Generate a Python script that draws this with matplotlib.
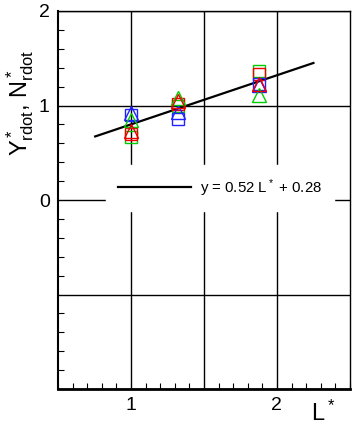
import numpy as np
import matplotlib
matplotlib.use('Agg')
import matplotlib.pyplot as plt
from matplotlib.ticker import MultipleLocator

plt.rcParams['font.family'] = ['Liberation Sans', 'DejaVu Sans']
plt.rcParams['mathtext.fontset'] = 'custom'
plt.rcParams['mathtext.rm'] = 'Liberation Sans'
plt.rcParams['mathtext.it'] = 'Liberation Sans'

# L* positions of the three groups
L = [1.0, 1.32, 1.88]

red_sq = [0.70, 1.02, 1.33]
green_sq = [0.67, 0.99, 1.37]
blue_sq = [0.90, 0.86, 1.23]
red_tri = [0.73, 1.05, 1.23]
green_tri = [0.85, 1.08, 1.11]
blue_tri = [0.92, 0.93, 1.22]

# linear fit y = 0.52 L* + 0.28
slope, icpt = 0.52, 0.28
fit_x = [0.755, 2.25]

fig = plt.figure(figsize=(3.6, 4.33), dpi=100)
ax = fig.add_axes([0.161, 0.1016, 0.811, 0.873])

fx = np.array(fit_x)
ax.plot(fx, slope * fx + icpt, color='black', lw=1.6, zorder=3,
        label=r'y = 0.52 L$^*$ + 0.28')

sq = dict(marker='s', ls='none', mfc='none', ms=8.5, mew=1.0, zorder=4)
tri = dict(marker='^', ls='none', mfc='none', ms=10.5, mew=1.0, zorder=4)
ax.plot(L, green_sq, color='#00cc00', **sq)
ax.plot(L, red_sq, color='#ee0000', **sq)
ax.plot(L, blue_sq, color='#2222ff', **sq)
ax.plot(L, blue_tri, color='#2222ff', **tri)
ax.plot(L, green_tri, color='#00cc00', **tri)
ax.plot(L, red_tri, color='#ee0000', **tri)

ax.set_xlim(0.5, 2.5)
ax.set_ylim(-2, 2)
ax.set_xticks([1, 1.5, 2])
ax.set_xticklabels(['1', '', '2'])
ax.set_yticks([-2, -1, 0, 1, 2])
ax.set_yticklabels(['', '', '0', '1', '2'])
ax.xaxis.set_minor_locator(MultipleLocator(0.1))
ax.yaxis.set_minor_locator(MultipleLocator(0.2))
ax.tick_params(which='both', direction='in', top=False, right=False)
ax.tick_params(which='major', length=0, labelsize=14, pad=6)
ax.tick_params(which='minor', length=4.5, width=0.8)
ax.grid(True, which='major', color='black', lw=1)
for s in ax.spines.values():
    s.set_linewidth(1.0)
ax.spines['bottom'].set_linewidth(2)
ax.spines['left'].set_linewidth(1.5)

leg = ax.legend(loc='center', bbox_to_anchor=(0.555, 0.532), fontsize=10.8,
                handlelength=4.9, handletextpad=0.6, frameon=True,
                fancybox=False, borderpad=0.8, borderaxespad=0)
leg.get_frame().set_facecolor('white')
leg.get_frame().set_edgecolor('white')
leg.get_frame().set_alpha(1)
leg.set_zorder(2.5)

ax.set_ylabel(r'Y$^*_{\rm rdot}$, N$^*_{\rm rdot}$', fontsize=17)
ax.yaxis.set_label_coords(-0.075, 0.757)
ax.set_xlabel(r'L$^*$', fontsize=17)
ax.xaxis.set_label_coords(0.91, -0.03)

fig.savefig('out.png', dpi=100)
